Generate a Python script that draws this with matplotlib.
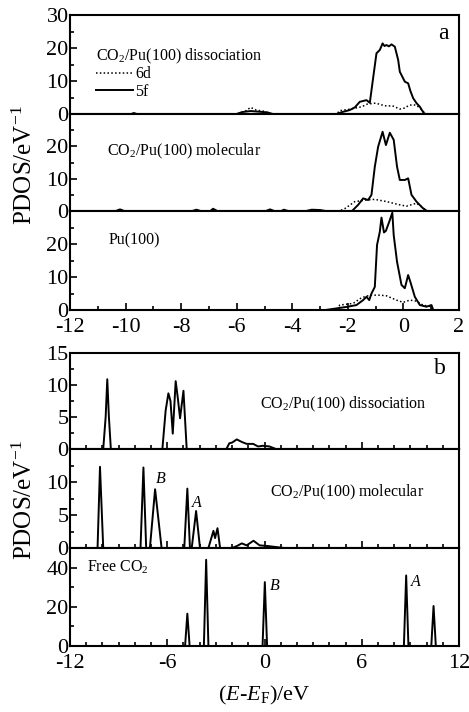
import matplotlib
matplotlib.use("Agg")
import matplotlib.pyplot as plt
from matplotlib.ticker import MultipleLocator

plt.rcParams['font.family'] = ['Liberation Serif', 'DejaVu Serif']
plt.rcParams['mathtext.fontset'] = 'custom'
plt.rcParams['mathtext.rm'] = 'Liberation Serif'
plt.rcParams['mathtext.it'] = 'Liberation Serif:italic'

# ---------------- Panel a data (energy, PDOS) ----------------
diss_5f_x = [-12, -9.8, -9.7, -9.6, -6.0, -5.8, -5.5, -5.2, -4.9, -4.7, -2.4, -2.2, -1.93, -1.75,
             -1.57, -1.33, -1.21, -1.1, -0.97, -0.85, -0.75, -0.68, -0.61, -0.52, -0.43, -0.31,
             -0.19, -0.13, 0.05, 0.17, 0.25, 0.35, 0.47, 0.59, 0.73, 0.8, 2]
diss_5f_y = [0, 0, 0.3, 0, 0, 0.6, 0.9, 0.7, 0.5, 0, 0, 0.6, 1.2, 2.0,
             3.7, 4.2, 3.4, 10.3, 18.4, 19.4, 21.4, 20.6, 20.9, 20.5, 21.1, 20.4,
             16.4, 12.8, 9.8, 9.3, 7.0, 4.8, 3.3, 2.2, 0.3, 0, 0]
diss_6d_x = [-12, -6.0, -5.7, -5.5, -5.3, -5.0, -4.8, -2.4, -2.3, -1.9, -1.5, -1.3, -1.0, -0.8,
             -0.6, -0.4, -0.13, 0.05, 0.17, 0.3, 0.45, 0.6, 0.8, 2]
diss_6d_y = [0, 0, 0.8, 2.0, 1.2, 0.8, 0, 0, 1.0, 1.5, 2.2, 3.0, 3.3, 2.8,
             2.4, 2.5, 1.5, 1.8, 2.5, 2.8, 2.7, 1.8, 0, 0]

mol_5f_x = [-12, -10.35, -10.2, -10.05, -7.6, -7.45, -7.3, -6.95, -6.85, -6.7, -4.95, -4.8, -4.65,
            -4.4, -4.3, -4.15, -3.5, -3.3, -3.0, -2.8, -1.85, -1.63, -1.45, -1.27, -1.15, -1.03,
            -0.91, -0.75, -0.63, -0.49, -0.35, -0.23, -0.13, 0.05, 0.17, 0.29, 0.47, 0.71, 0.85, 2]
mol_5f_y = [0, 0, 0.5, 0, 0, 0.4, 0, 0, 0.7, 0, 0, 0.5, 0,
            0, 0.4, 0, 0, 0.4, 0.3, 0, 0, 1.9, 3.9, 3.4, 5.0, 13.7,
            19.9, 24.5, 20.4, 24.2, 22.0, 13.7, 9.6, 9.6, 10.1, 5.0, 2.9, 0.8, 0, 0]
mol_6d_x = [-12, -2.3, -2.1, -1.75, -1.33, -1.03, -0.6, -0.13, 0.11, 0.47, 0.65, 0.85, 2]
mol_6d_y = [0, 0, 0.8, 2.9, 3.4, 3.6, 2.9, 1.9, 1.5, 2.4, 1.3, 0, 0]

pu_5f_x = [-12, -2.8, -2.0, -1.69, -1.45, -1.33, -1.23, -1.15, -1.03, -0.95, -0.85, -0.79, -0.7,
           -0.63, -0.5, -0.4, -0.35, -0.23, -0.07, 0.05, 0.17, 0.25, 0.41, 0.59, 0.83, 1.01, 1.07, 2]
pu_5f_y = [0, 0, 1.0, 1.5, 3.0, 4.0, 3.0, 5.0, 7.0, 19.7, 23.7, 28.0, 23.5,
           24.0, 27.0, 29.5, 22.7, 14.6, 7.6, 6.6, 10.6, 8.5, 4.0, 1.5, 1.0, 1.5, 0, 0]
pu_6d_x = [-12, -2.4, -2.29, -1.81, -1.51, -1.21, -0.85, -0.61, -0.25, -0.01, 0.23, 0.47, 0.7, 1.0, 1.1, 2]
pu_6d_y = [0, 0, 1.5, 2.0, 3.7, 4.5, 4.5, 4.3, 3.0, 2.3, 3.0, 2.7, 1.5, 1.0, 0, 0]

# ---------------- Panel b data ----------------
bdiss_x = [-12, -9.95, -9.8, -9.7, -9.6, -9.48, -6.3, -6.1, -5.93, -5.8, -5.66, -5.48, -5.35,
           -5.21, -5.0, -4.8, -2.35, -2.17, -2.0, -1.71, -1.4, -1.1, -0.7, -0.4, -0.1, 0.3, 0.7, 12]
bdiss_y = [0, 0, 5, 10.9, 5, 0, 0, 6, 8.7, 7.5, 2.4, 10.6, 8,
           4.8, 9.1, 0, 0, 0.9, 1.0, 1.5, 1.1, 0.8, 0.8, 0.4, 0.5, 0.4, 0, 0]
bmol_x = [-12, -10.3, -10.15, -9.95, -7.65, -7.47, -7.3, -7.07, -6.75, -6.35, -4.95, -4.76, -4.6,
          -4.49, -4.22, -3.98, -3.46, -3.15, -3.05, -2.9, -2.74, -2.0, -1.7, -1.4, -1.1, -0.68,
          -0.3, 0.2, 1.2, 12]
bmol_y = [0, 0, 12.3, 0, 0, 12.2, 0, 0, 8.9, 0, 0, 9.0, 0,
          0, 5.6, 0, 0, 2.6, 1.5, 3.0, 0, 0, 0.3, 0.7, 0.4, 1.1,
          0.4, 0.3, 0, 0]
free_x = [-12, -4.9, -4.76, -4.62, -3.74, -3.6, -3.46, -0.12, 0.02, 0.16, 8.6, 8.74, 8.88,
          10.29, 10.43, 10.57, 12]
free_y = [0, 0, 16.5, 0, 0, 44, 0, 0, 32.6, 0, 0, 36, 0,
          0, 20.4, 0, 0]

a_xticks = [-12, -10, -8, -6, -4, -2, 0, 2]
b_xticks = [-12, -6, 0, 6, 12]

W, H = 469, 712
fig = plt.figure(figsize=(W / 100, H / 100), dpi=100)

TICK_FS = 16
TXT_FS = 11.5
LBL_FS = 18
LW = 1.4


def make_ax(top, bot):
    ax = fig.add_axes([70 / W, 1 - bot / H, 389 / W, (bot - top) / H])
    for s in ax.spines.values():
        s.set_linewidth(1.5)
    ax.tick_params(direction='in', which='both', labelsize=TICK_FS, width=1.2,
                   top=False, right=False)
    ax.tick_params(axis='y', pad=1)
    ax.tick_params(axis='x', pad=6)
    ax.tick_params(which='major', length=5)
    ax.tick_params(which='minor', length=3)
    return ax


# Panel a
a_bounds = [(15, 114), (114, 211), (211, 310)]
a_data = [(diss_5f_x, diss_5f_y, diss_6d_x, diss_6d_y),
          (mol_5f_x, mol_5f_y, mol_6d_x, mol_6d_y),
          (pu_5f_x, pu_5f_y, pu_6d_x, pu_6d_y)]
a_axes = []
for i, ((t, b), (fx, fy, dx, dy)) in enumerate(zip(a_bounds, a_data)):
    ax = make_ax(t, b)
    l6d, = ax.plot(dx, dy, color='black', lw=1.1, ls=(0, (1, 1.5)))
    l5f, = ax.plot(fx, fy, color='black', lw=LW)
    ax.set_xlim(-12, 2)
    ax.set_ylim(0, 30)
    ax.set_yticks([0, 10, 20, 30] if i == 0 else [0, 10, 20])
    ax.yaxis.set_minor_locator(MultipleLocator(5))
    ax.xaxis.set_major_locator(MultipleLocator(2))
    ax.xaxis.set_minor_locator(MultipleLocator(1))
    if i < 2:
        ax.tick_params(axis='x', which='both', bottom=False, labelbottom=False)
    else:
        ax.set_xticks(a_xticks)
        ax.set_xticklabels([str(v) for v in a_xticks])
    a_axes.append(ax)
    if i == 0:
        ax.legend([l6d, l5f], ['6d', '5f'], loc='upper left', bbox_to_anchor=(0.067, 0.48),
                  frameon=False, fontsize=TXT_FS, handlelength=2.3, handletextpad=0.15,
                  labelspacing=0.1, borderpad=0, borderaxespad=0)

a_axes[0].text(0.067, 0.585, 'CO$_2$/Pu(100) dissociation', transform=a_axes[0].transAxes,
               fontsize=TXT_FS, va='center', ha='left')
a_axes[0].text(0.96, 0.81, 'a', transform=a_axes[0].transAxes, fontsize=17, va='center', ha='center')
a_axes[1].text(0.095, 0.61, 'CO$_2$/Pu(100) molecular', transform=a_axes[1].transAxes,
               fontsize=TXT_FS, va='center', ha='left')
a_axes[2].text(0.10, 0.70, 'Pu(100)', transform=a_axes[2].transAxes,
               fontsize=TXT_FS, va='center', ha='left')

# Panel b
b_bounds = [(353, 449), (449, 548), (548, 646)]
b_data = [(bdiss_x, bdiss_y), (bmol_x, bmol_y), (free_x, free_y)]
b_ylims = [(0, 15), (0, 15), (0, 50)]
b_yticks = [[0, 5, 10, 15], [0, 5, 10], [0, 20, 40]]
b_yminor = [2.5, 2.5, 10]
b_axes = []
for i, ((t, b), (x, y)) in enumerate(zip(b_bounds, b_data)):
    ax = make_ax(t, b)
    ax.plot(x, y, color='black', lw=LW)
    ax.set_xlim(-12, 12)
    ax.set_ylim(*b_ylims[i])
    ax.set_yticks(b_yticks[i])
    ax.yaxis.set_minor_locator(MultipleLocator(b_yminor[i]))
    ax.set_xticks(b_xticks)
    ax.xaxis.set_minor_locator(MultipleLocator(1))
    if i < 2:
        ax.tick_params(axis='x', labelbottom=False)
    else:
        ax.set_xticklabels([str(v) for v in b_xticks])
    b_axes.append(ax)

b_axes[0].text(0.488, 0.46, 'CO$_2$/Pu(100) dissociation', transform=b_axes[0].transAxes,
               fontsize=TXT_FS, va='center', ha='left')
b_axes[0].text(0.951, 0.84, 'b', transform=b_axes[0].transAxes, fontsize=17, va='center', ha='center')
b_axes[1].text(0.514, 0.56, 'CO$_2$/Pu(100) molecular', transform=b_axes[1].transAxes,
               fontsize=TXT_FS, va='center', ha='left')
b_axes[1].text(-6.38, 10.5, 'B', fontstyle='italic', fontsize=TXT_FS, ha='center', va='center')
b_axes[1].text(-4.16, 6.8, 'A', fontstyle='italic', fontsize=TXT_FS, ha='center', va='center')
b_axes[2].text(0.043, 0.80, 'Free CO$_2$', transform=b_axes[2].transAxes,
               fontsize=TXT_FS, va='center', ha='left')
b_axes[2].text(0.62, 30.5, 'B', fontstyle='italic', fontsize=TXT_FS, ha='center', va='center')
b_axes[2].text(9.36, 32.6, 'A', fontstyle='italic', fontsize=TXT_FS, ha='center', va='center')

b_axes[2].set_xlabel(r'($E$-$E_{\mathrm{F}}$)/eV', fontsize=16, labelpad=8)

fig.text(25 / W, 1 - 165 / H, 'PDOS/eV$^{-1}$', rotation=90, fontsize=LBL_FS, ha='center', va='center')
fig.text(25 / W, 1 - 500 / H, 'PDOS/eV$^{-1}$', rotation=90, fontsize=LBL_FS, ha='center', va='center')

fig.savefig('out.png', dpi=100)
